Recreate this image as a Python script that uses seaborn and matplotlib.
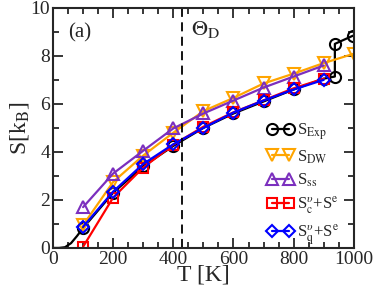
import seaborn as sns
import matplotlib.pyplot as plt

# temperatures (K)
T = [100, 200, 300, 400, 500, 600, 700, 800, 900]
T_dw = [100, 200, 300, 400, 500, 600, 700, 800, 900, 1000]

# experimental entropy incl. the jump near 937 K
T_exp = [100, 200, 300, 400, 500, 600, 700, 800, 900, 937, 937, 997]
S_exp = [0.83, 2.3, 3.4, 4.25, 5.0, 5.6, 6.1, 6.6, 7.05, 7.14, 8.5, 8.84]
# low-T tail of the experimental curve (no markers)
T_tail = [0, 20, 40, 60, 80, 100]
S_tail = [0.0, 0.0, 0.03, 0.2, 0.5, 0.83]

S_dw = [0.95, 2.75, 3.85, 4.8, 5.7, 6.25, 6.85, 7.26, 7.7, 8.09]
S_ss = [1.7, 3.1, 4.05, 4.98, 5.6, 6.14, 6.68, 7.14, 7.6]
S_c = [0.05, 2.1, 3.35, 4.3, 5.05, 5.65, 6.15, 6.65, 7.05]
S_q = [0.88, 2.35, 3.5, 4.32, 5.0, 5.64, 6.14, 6.6, 7.0]

theta_D = 428

sns.set_style("ticks")
plt.rcParams['font.family'] = ['Liberation Serif', 'DejaVu Serif']
plt.rcParams['mathtext.fontset'] = 'stix'

fig = plt.figure(figsize=(3.76, 2.91), dpi=100)
ax = fig.add_axes([0.141, 0.148, 0.80, 0.825])


def style(c, ms=8):
    return dict(color=c, mec=c, mfc='none', mew=1.5, ms=ms, lw=1.6)


sns.lineplot(x=T_tail, y=S_tail, color='black', lw=1.6, ax=ax)
sns.lineplot(x=T_exp, y=S_exp, marker='o', sort=False, estimator=None,
             label=r'S$_{\rm Exp}$', ax=ax, **style('black'))
sns.lineplot(x=T_dw, y=S_dw, marker='v', label=r'S$_{\rm DW}$', ax=ax,
             **style('orange'))
sns.lineplot(x=T, y=S_ss, marker='^', label=r'S$_{\rm ss}$', ax=ax,
             **style('#7b2fbe'))
sns.lineplot(x=T, y=S_c, marker='s', ax=ax,
             label=r'S$_{\rm c}^{\upsilon}$+S$^{\rm e}$', **style('red', 7))
sns.lineplot(x=T, y=S_q, marker='D', ax=ax,
             label=r'S$_{\rm q}^{\upsilon}$+S$^{\rm e}$', **style('blue', 6.5))

ax.axvline(theta_D, color='black', ls=(0, (5, 3)), lw=1.3)
ax.text(50, 8.75, '(a)', fontsize=15)
ax.text(theta_D + 30, 8.85, r'$\Theta_{\rm D}$', fontsize=16)

ax.set_xlim(0, 1000)
ax.set_ylim(0, 10)
ax.set_xticks([0, 200, 400, 600, 800, 1000])
ax.set_yticks([0, 2, 4, 6, 8, 10])
ax.set_xticks(range(0, 1001, 50), minor=True)
ax.set_yticks(range(0, 11), minor=True)
ax.tick_params(which='both', direction='in', top=True, right=True,
               labelsize=14, width=1.3, pad=2)
ax.tick_params(which='major', length=7)
ax.tick_params(which='minor', length=4)
for s in ax.spines.values():
    s.set_linewidth(1.5)
ax.set_xlabel('T [K]', fontsize=17, labelpad=-2)
ax.set_ylabel(r'S[k$_{\rm B}$]', fontsize=17, labelpad=0)

ax.legend(loc='upper left', bbox_to_anchor=(0.685, 0.56), frameon=False,
          fontsize=12, handlelength=1.6, handletextpad=0.2, numpoints=2,
          labelspacing=0.35, borderpad=0)

fig.savefig('out.png', dpi=100)
